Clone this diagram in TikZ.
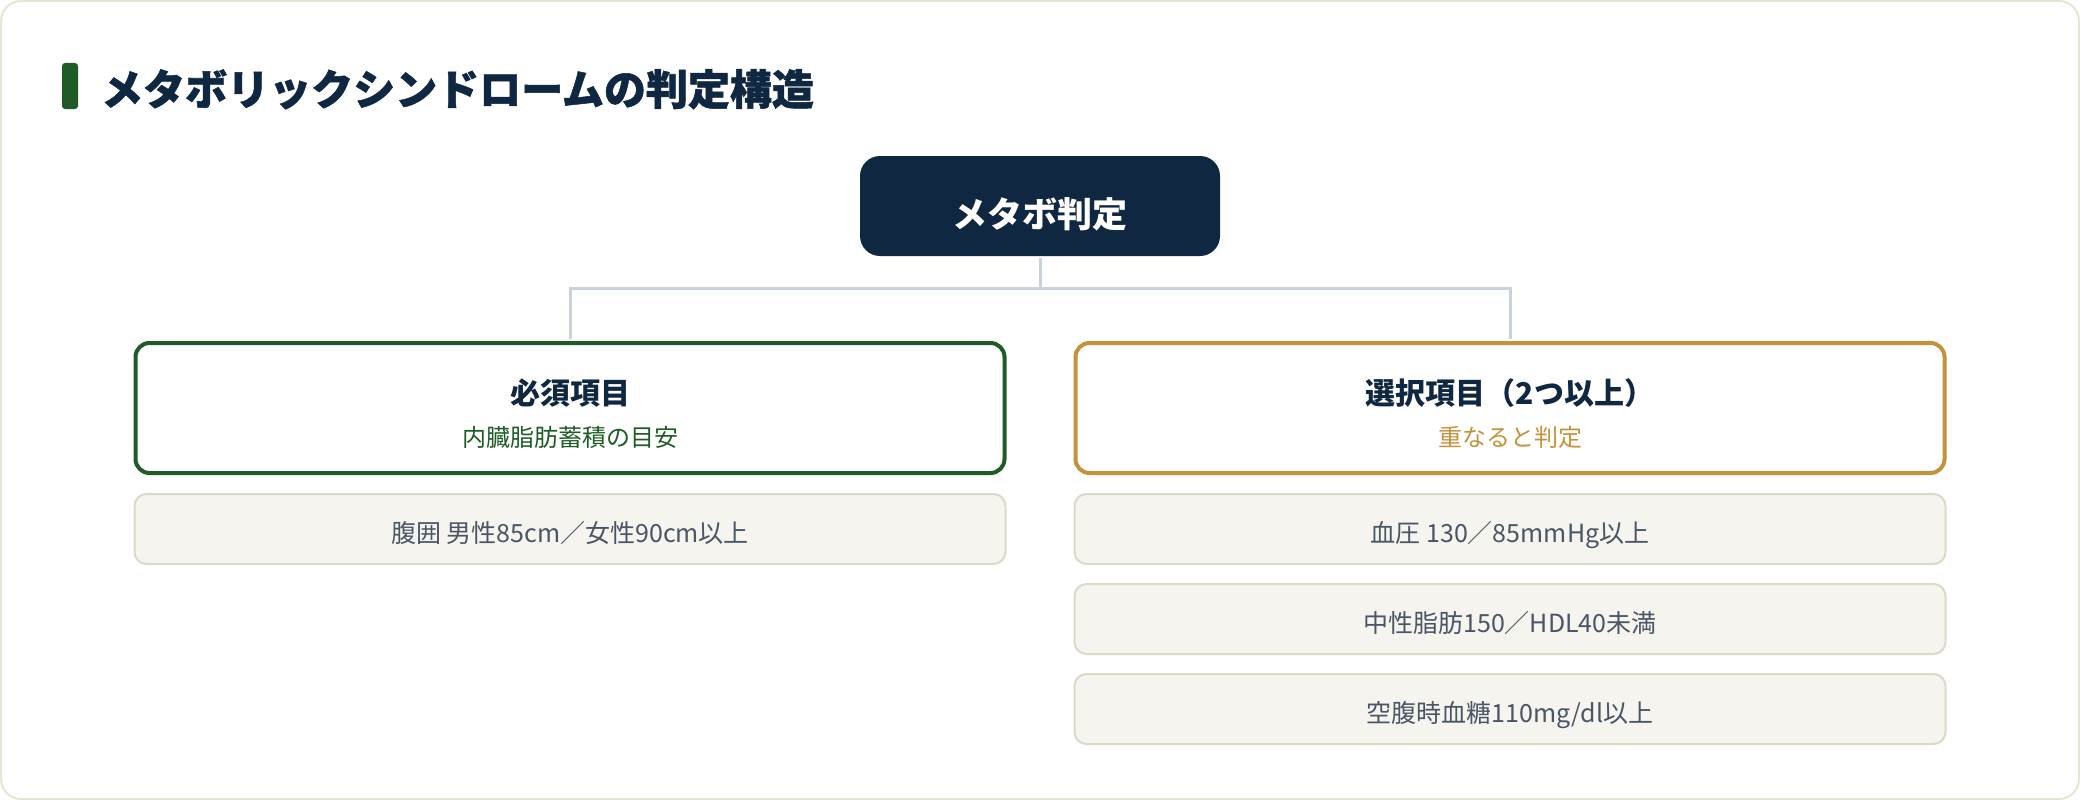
\documentclass[tikz,border=0pt]{standalone}
\usepackage{fontspec}
\setmainfont{Noto Sans CJK JP}
\newfontfamily\headfont{Noto Sans CJK JP}[BoldFeatures={FakeBold=1.2}]
\usepackage{tikz}
\usetikzlibrary{arrows.meta}

\definecolor{navy}{HTML}{0F2740}
\definecolor{darkgreen}{HTML}{1E5B26}
\definecolor{gold}{HTML}{C4923A}
\definecolor{linkgray}{HTML}{C9D1DB}
\definecolor{itemfill}{HTML}{F5F4EF}
\definecolor{itemline}{HTML}{DDD9C8}
\definecolor{itemtext}{HTML}{4A5565}
\definecolor{cardline}{HTML}{E6E3D7}
\newcommand{\fsz}[1]{\fontsize{#1}{#1}\selectfont}

\begin{document}
\begin{tikzpicture}[x=1pt,y=-1pt]
	\useasboundingbox (0,0) rectangle (2080,800);
	\draw[draw=cardline, line width=2pt, rounded corners=20pt, fill=white] (1,1) rectangle (2079,799);
	\fill[darkgreen, rounded corners=3pt] (62,63) rectangle (78,109);
	\node[anchor=base west, inner sep=0pt, text=navy, font=\headfont\fsz{42}\bfseries] (title) at (101,105) {メタボリックシンドロームの判定構造};

	\begin{scope}[every node/.style={rounded corners=14pt, line width=4pt, fill=white, minimum width=869pt, minimum height=130pt}]
		\node[fill=navy, rounded corners=20pt, minimum width=360pt, minimum height=100pt, text=white, font=\fsz{35}\bfseries, text height=46pt, text depth=4pt] (0) at (1040,206) {メタボ判定};
		\node[draw=darkgreen] (1) at (570,408) {};
		\node[draw=gold] (2) at (1510,408) {};
	\end{scope}

	\begin{scope}[every node/.style={anchor=base, inner sep=0pt}]
		\node[text=navy, font=\fsz{30}\bfseries] (1a) at (570,404) {必須項目};
		\node[text=darkgreen, font=\fsz{24}] (1b) at (570,446) {内臓脂肪蓄積の目安};
		\node[text=navy, font=\fsz{30}\bfseries] (2a) at (1510,404) {選択項目（2つ以上）};
		\node[text=gold, font=\fsz{24}] (2b) at (1510,446) {重なると判定};
	\end{scope}

	\begin{scope}[every node/.style={fill=itemfill, draw=itemline, line width=2pt, rounded corners=12pt, minimum width=871pt, minimum height=70pt, text=itemtext, font=\fsz{25}, text height=32pt, text depth=5pt}]
		\node (3) at (570,529) {腹囲 男性85cm／女性90cm以上};
		\node (4) at (1510,529) {血圧 130／85mmHg以上};
		\node (5) at (1510,619) {中性脂肪150／HDL40未満};
		\node (6) at (1510,709) {空腹時血糖110mg/dl以上};
	\end{scope}

	\begin{scope}[every edge/.style={draw=linkgray, line width=3pt, shorten >=2pt,
	              to path={(\tikztostart.south) -- ++(0,30) -| (\tikztotarget.north)}}]
		\path (0) edge (1);
		\path (0) edge (2);
	\end{scope}
\end{tikzpicture}
\end{document}
